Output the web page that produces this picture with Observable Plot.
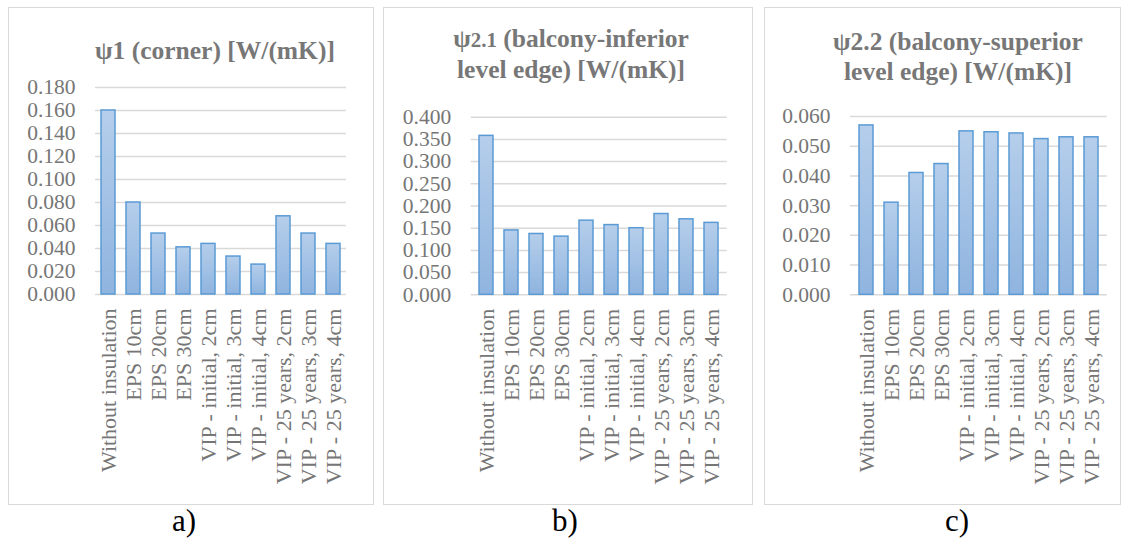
<!DOCTYPE html>
<html>
<head>
<meta charset="utf-8">
<script src="https://cdn.jsdelivr.net/npm/d3@7"></script>
<script src="https://cdn.jsdelivr.net/npm/@observablehq/plot@0.6"></script>
<style>
  html, body { margin: 0; padding: 0; background: #fff; }
  #root { position: relative; width: 1123px; height: 541px; overflow: hidden; font-family: "Liberation Serif", "Times New Roman", serif; }
  .box { position: absolute; border: 1px solid #d9d9d9; box-sizing: border-box; }
  .title { position: absolute; font-weight: bold; font-size: 25.5px; line-height: 30px; color: #777777; text-align: center; white-space: nowrap; transform: translateX(-50%); }
  .title .sm { font-size: 0.82em; }
  .lab { position: absolute; font-size: 31px; line-height: 34px; color: #000; transform: translateX(-50%); white-space: nowrap; }
  .plotwrap { position: absolute; left: 0; top: 0; }
</style>
</head>
<body>
<svg width="0" height="0" style="position:absolute">
  <defs>
    <linearGradient id="barGrad" x1="0" y1="0" x2="0" y2="1">
      <stop offset="0" stop-color="#b5ceeb"/>
      <stop offset="1" stop-color="#8fb4df"/>
    </linearGradient>
  </defs>
</svg>
<div id="root"></div>
<script>
const categories = [
  "Without insulation", "EPS 10cm", "EPS 20cm", "EPS 30cm",
  "VIP - initial, 2cm", "VIP - initial, 3cm", "VIP - initial, 4cm",
  "VIP - 25 years, 2cm", "VIP - 25 years, 3cm", "VIP - 25 years, 4cm"
];
const valuesA = [0.160, 0.080, 0.053, 0.041, 0.044, 0.033, 0.026, 0.068, 0.053, 0.044];
const valuesB = [0.358, 0.145, 0.137, 0.131, 0.167, 0.157, 0.150, 0.182, 0.170, 0.162];
const valuesC = [0.057, 0.031, 0.041, 0.044, 0.055, 0.0547, 0.0543, 0.0524, 0.053, 0.053];
const ticksA = [0, 0.02, 0.04, 0.06, 0.08, 0.10, 0.12, 0.14, 0.16, 0.18];
const ticksB = [0, 0.05, 0.10, 0.15, 0.20, 0.25, 0.30, 0.35, 0.40];
const ticksC = [0, 0.01, 0.02, 0.03, 0.04, 0.05, 0.06];
const titleA = ["ψ1 (corner) [W/(mK)]"];
const titleB = ["ψ<span class='sm'>2.1</span> (balcony-inferior", "level edge) [W/(mK)]"];
const titleC = ["ψ2.2 (balcony-superior", "level edge) [W/(mK)]"];
const panelLabels = ["a)", "b)", "c)"];

const W = 1123, H = 541;
const panels = [
  { values: valuesA, ticks: ticksA, title: titleA, label: panelLabels[0],
    box: [8, 7, 374, 505], frame: [95, 346, 87, 294], titleX: 215, titleTop: 35.5, labX: 184 },
  { values: valuesB, ticks: ticksB, title: titleB, label: panelLabels[1],
    box: [383, 7, 753, 505], frame: [470.7, 726.7, 116.7, 294.3], titleX: 571, titleTop: 24, labX: 565 },
  { values: valuesC, ticks: ticksC, title: titleC, label: panelLabels[2],
    box: [764, 7, 1121, 505], frame: [850, 1106.7, 116, 294.3], titleX: 958, titleTop: 26.5, labX: 957 }
];

const root = document.getElementById("root");

for (const p of panels) {
  const box = document.createElement("div");
  box.className = "box";
  box.style.left = p.box[0] + "px";
  box.style.top = p.box[1] + "px";
  box.style.width = (p.box[2] - p.box[0]) + "px";
  box.style.height = (p.box[3] - p.box[1]) + "px";
  root.appendChild(box);
}

for (const p of panels) {
  const data = categories.map((c, i) => ({ cat: c, v: p.values[i] }));
  const [x0, x1, y0, y1] = p.frame;
  const chart = Plot.plot({
    width: W,
    height: H,
    marginLeft: x0,
    marginRight: W - x1,
    marginTop: y0,
    marginBottom: H - y1,
    style: { fontFamily: "'Liberation Serif', 'Times New Roman', serif", color: "#767676", background: "transparent", overflow: "visible" },
    x: { domain: categories, paddingInner: 0.44, paddingOuter: 0.22 },
    y: { domain: [0, p.ticks[p.ticks.length - 1]] },
    marks: [
      Plot.gridY(p.ticks, { stroke: "#d9d9d9", strokeOpacity: 1, strokeWidth: 1.5 }),
      Plot.barY(data, { x: "cat", y: "v", fill: "url(#barGrad)", stroke: "#5b9bd5", strokeWidth: 1.5 }),
      Plot.axisY(p.ticks, { tickSize: 0, tickPadding: 20, tickFormat: d3.format(".3f"), fontSize: 21.5, label: null }),
      Plot.axisX({ tickRotate: -90, tickSize: 0, tickPadding: 14, fontSize: 22, label: null })
    ]
  });
  const wrap = document.createElement("div");
  wrap.className = "plotwrap";
  wrap.appendChild(chart);
  root.appendChild(wrap);

  const t = document.createElement("div");
  t.className = "title";
  t.style.left = p.titleX + "px";
  t.style.top = p.titleTop + "px";
  t.innerHTML = p.title.join("<br>");
  root.appendChild(t);

  const l = document.createElement("div");
  l.className = "lab";
  l.style.left = p.labX + "px";
  l.style.top = "503.5px";
  l.textContent = p.label;
  root.appendChild(l);
}
</script>
</body>
</html>
